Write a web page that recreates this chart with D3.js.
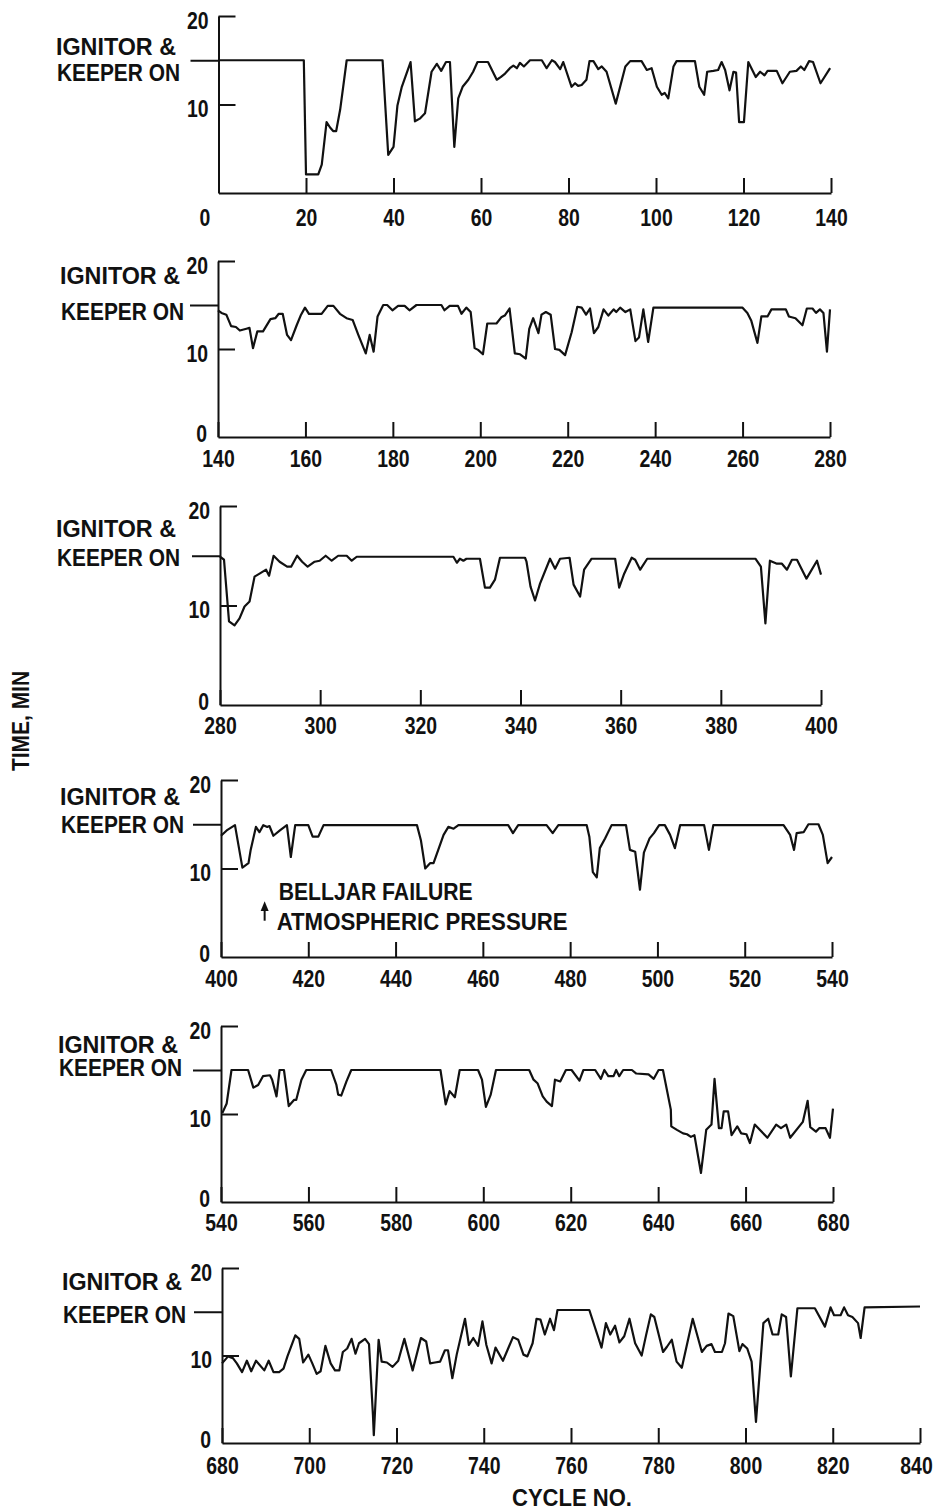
<!DOCTYPE html>
<html>
<head>
<meta charset="utf-8">
<script src="https://cdn.jsdelivr.net/npm/d3@7"></script>
<style>
  html, body { margin: 0; padding: 0; background: #fff; }
  svg text { font-family: "Liberation Sans", Arial, sans-serif; fill: #111; font-weight: bold; }
</style>
</head>
<body>
<svg id="chart" width="942" height="1512"></svg>
<script>
// Ignitor & keeper on-time (minutes) for each test cycle, as [cycle, minutes]
const run1 = [[0,15],[19.5,15],[20,2.1],[22.8,2.1],[23.6,3.2],[24.7,8.0],[25.5,7.4],[26.2,7.0],[26.9,7.0],[27.8,9.4],[28.5,12],[29.3,15],[37.5,15],[38.8,4.3],[40,5.2],[40.9,9.9],[41.9,12],[43.9,14.8],[44.9,8.1],[46,8.4],[47.2,9.0],[48.7,13.7],[49.9,14.6],[50.9,13.8],[52,14.8],[52.9,14.8],[53.9,5.2],[54.8,10.7],[55.8,12],[57.1,12.8],[58.2,13.7],[59.2,14.8],[61.6,14.8],[63.6,12.8],[64.5,13.1],[65.5,13.5],[66.6,14.1],[67.4,14.4],[68.2,14.1],[68.9,14.7],[69.8,14.3],[71.2,15],[73.9,15],[75,14.1],[76.2,15],[76.9,14.8],[78.1,14],[78.8,14.8],[80.7,12],[81.5,12.4],[82.2,12.1],[83,12.2],[84.1,12.8],[84.8,14.9],[85.7,14.9],[86.8,14],[87.6,14.3],[88.7,13.7],[90.8,10.1],[93,14.3],[94.1,14.9],[96.7,14.9],[97.9,13.9],[99,14.1],[100.2,12],[101.3,11.1],[102,11.3],[102.8,10.7],[104,14.3],[104.7,14.9],[108.9,14.9],[109.9,12],[111,11.1],[111.7,13.7],[113.1,13.8],[114.2,13.9],[115,14.8],[115.8,13.9],[116.8,11.6],[117.7,13.7],[118.3,13.6],[119,8],[120.1,8],[121.1,14.8],[122.8,13.1],[123.8,13.7],[124.8,13.3],[125.5,13.8],[127.6,13.8],[128.9,12.4],[130.6,13.7],[132.1,13.8],[133.1,14.3],[133.9,13.9],[135,14.9],[135.9,14.8],[137.6,12.4],[139.8,14.1]];

const run2 = [[140,14.4],[140.8,14.1],[141.9,13.9],[143,12.6],[144.1,12.5],[145,12.1],[146.5,12.3],[147.2,12.4],[148,10.1],[149,12],[150.3,12],[152,13.4],[153.1,13.5],[153.9,14],[154.8,14],[155.8,11.6],[156.7,11],[158,12.7],[159,13.9],[159.9,14.7],[160.8,14],[163.7,14],[165.1,14.9],[166.4,14.9],[167.9,14],[169.4,13.5],[170.8,13.3],[172.1,11.6],[173.8,9.5],[174.7,11.6],[175.6,9.7],[176.5,13.7],[177.8,15],[178.7,15],[179.9,14.4],[181.2,14.9],[182.7,14.9],[183.8,14.4],[185.4,15],[191.1,15],[191.8,14.4],[193,14.9],[194.9,14.9],[195.7,14],[196.8,14.7],[197.8,14.2],[198.7,10.1],[199.5,9.9],[200.6,9.4],[201.6,12.9],[203.7,12.9],[204.8,13.6],[205.6,13.8],[206.7,14.6],[207.9,9.5],[209.1,9.4],[210.4,8.9],[211.2,12.3],[212.1,13.5],[213.3,11.8],[214,13.9],[215,14.2],[216.1,13.9],[217.1,10],[218.1,9.9],[219.4,9.3],[220.9,11.9],[222.2,14.8],[223.2,14.7],[224.2,13.9],[225.1,14.6],[226,11.8],[227,12.5],[228.2,14.5],[229.3,13.8],[230.5,14.5],[231.1,14.2],[232,14.7],[233.2,14.2],[234.3,14.5],[235.5,10.9],[236.3,11.3],[237.3,14.5],[238.4,10.8],[239.6,14.7],[260,14.7],[261.1,14.1],[262,13.2],[263.4,10.7],[264.3,13.7],[265.7,13.7],[266.6,14.5],[269.9,14.5],[270.6,13.7],[272.1,13.5],[273.7,12.7],[274.7,14.6],[276,14.6],[276.8,14.1],[277.7,14.5],[278.5,14.1],[279.3,9.7],[280,14.5]];

const run3 = [[280,14.9],[280.8,14.6],[281.8,8.4],[282.9,8],[283.9,8.7],[284.9,9.9],[285.9,10.4],[286.9,12.9],[287.9,13.2],[289.2,13.6],[289.8,13],[290.7,15],[291.9,14.4],[293.4,13.9],[294.2,13.9],[295.4,15],[296.4,14.4],[297.5,13.9],[298.9,14.4],[299.9,14.5],[301.1,15],[302.3,14.5],[303.6,15],[305.3,15],[306.3,14.5],[307.3,14.9],[326.6,14.9],[327.3,14.3],[327.9,14.7],[328.6,14.5],[329.2,14.7],[331.9,14.7],[332.9,11.8],[333.9,11.8],[334.9,12.6],[335.9,14.8],[340.9,14.8],[341.2,14.4],[342,11.9],[342.9,10.5],[343.9,12.2],[345.9,14.7],[346.9,13.7],[347.9,14.7],[349.8,14.8],[350.6,12.1],[351.9,10.9],[352.7,13.6],[354.2,14.7],[358.9,14.7],[359.7,11.8],[360.7,13.2],[362.2,14.8],[362.9,14.6],[363.9,13.6],[365.3,14.7],[386.9,14.7],[388,13.9],[388.9,8.2],[389.8,14.5],[391.2,14.2],[392.2,14.2],[393.2,13.6],[394.2,14.6],[395.2,14.6],[397.1,12.7],[399.2,14.5],[400,13.1]];

const run4 = [[400,13.7],[401.3,14.3],[403.2,14.9],[404.9,10.1],[406.3,10.6],[406.8,12.1],[408,14.7],[408.8,14.1],[409.7,14.9],[410.6,14.7],[411.1,14.8],[412,13.7],[413.5,14.3],[415.1,14.9],[416,11.3],[417,14.9],[420,14.9],[421,13.6],[422.3,13.6],[423.5,14.9],[444.9,14.9],[445.8,13.2],[446.8,10],[447.9,10.6],[448.7,10.6],[451,13.8],[452.1,14.7],[453.3,14.5],[454.4,14.9],[465.8,14.9],[466.9,14],[468.1,14.9],[474.6,14.9],[476,14],[477.3,14.9],[483.8,14.9],[484.4,13.6],[485.2,9.6],[486.1,9],[486.8,12.3],[488,13.4],[489.5,14.9],[492.8,14.9],[493.7,12.1],[494.9,11.9],[496,7.6],[496.9,11.8],[498.2,13.4],[499.2,14],[500.4,14.9],[501.7,14.9],[502.9,13.8],[504,12.3],[505.2,14.9],[510.7,14.9],[511.8,12.1],[512.8,14.9],[528.9,14.9],[530.4,13.8],[531.3,12.1],[531.9,14],[533.5,14.1],[534.6,15],[536.9,15],[537.9,13.8],[539,10.6],[540,11.3]];

const run5 = [[540.3,10.1],[541.3,11.2],[542.4,15],[546.2,15],[547.4,13],[548.5,13.3],[549.6,14.3],[551.2,14.4],[551.7,13.9],[552.7,12],[553.4,15],[554.4,15],[555.5,10.9],[556.7,11.6],[557.2,11.6],[558.4,13.9],[559.5,15],[565.2,15],[566.4,13.3],[566.8,12.2],[567.5,12.1],[568.7,13.7],[569.8,15],[590.2,15],[591.4,11.1],[592.3,12.6],[593.5,11.9],[594.6,15],[598.8,15],[599.7,13.9],[600.6,10.8],[601.7,12.2],[602.9,15],[610.5,15],[611.5,13.9],[612.4,13.5],[613.6,12],[614.5,11.4],[615.7,10.9],[616.4,13.9],[617.6,13.7],[618.9,15],[620.2,15],[622,13.8],[622.9,15],[625.6,15],[626.9,14],[627.7,15],[628.6,14.3],[629.8,14.3],[630.4,15],[631.1,14.3],[632,15],[634,15],[635,14.6],[637.8,14.5],[639,14],[640.1,15],[641.1,15],[642.9,10.5],[643,8.6],[644.3,8.2],[645.7,7.8],[646.6,7.7],[647.5,7.4],[648.3,7.6],[649.8,3.3],[651,8.2],[652.2,8.8],[652.9,14],[653.9,8.4],[654.5,8.4],[655,10.3],[656,10.3],[656.8,7.6],[658.1,8.6],[659,7.8],[660.2,7.7],[661,6.7],[662.1,8.8],[665,7.3],[667,8.8],[668.1,8.4],[669.3,8.8],[670.2,7.3],[673.1,9.1],[674.2,11.5],[674.8,8.5],[676.1,8],[676.9,8.4],[678.3,8.4],[679.3,7.3],[680,10.6]];

const run6 = [[680,9.1],[681.4,9.9],[682.5,9.7],[683.4,9.1],[684.6,8.1],[685.7,9.4],[686.7,8.2],[687.8,9.4],[689.7,8.3],[690.7,9.4],[691.8,8.1],[693.1,8.1],[694.1,8.5],[695,9.9],[696.8,12.3],[697.7,11.9],[698.6,9.2],[699.8,10.1],[700.7,9.1],[701.7,7.9],[702.6,8.2],[703.7,11.1],[704.9,9.1],[705.9,8.3],[706.9,8.3],[707.7,10.4],[708.7,10.8],[709.7,11.9],[710.6,10.2],[711.4,11.4],[712.8,11.9],[713.7,11.3],[714.6,3.2],[714.8,0.9],[715.9,11.8],[716.6,9.3],[717.8,9.2],[719.1,8.7],[720.4,9.4],[721.8,11.9],[723.7,8.3],[725.6,12],[726.8,11.6],[727.7,9.1],[728.8,9.2],[730,9.3],[731.1,10.6],[731.8,10.6],[732.8,7.4],[733.8,10.1],[735.7,14.2],[736.6,11.2],[737.6,12],[738.7,11.1],[739.7,13.9],[740.6,11.2],[741.8,9.1],[742.7,10.9],[744.4,9.4],[746.7,12.1],[747.9,11.8],[749.1,10.1],[750,9.9],[751.2,11.4],[752.1,14.2],[753,14.1],[754,12.4],[755.2,14.2],[756.1,12.9],[756.9,15.2],[764.2,15.2],[767,10.9],[768,13.7],[769,12.4],[770.1,13.4],[771.1,11.5],[772.2,12.2],[773.4,14.2],[774.7,11.4],[776.2,10],[777.2,12.3],[778.3,14.7],[779.1,14.4],[781.1,10.4],[782,11],[783.1,11.8],[784.2,9.3],[785.4,8.6],[787.9,14.2],[790,10.4],[791.1,11.1],[792.2,11.3],[793,10.4],[794.6,10.4],[795.3,11.4],[796.1,14.8],[797.2,14.5],[798.6,10.5],[799.3,11.3],[800.4,10.8],[801.4,9.3],[802.4,2.4],[804.1,13.7],[805.2,14.2],[806.2,12.4],[807.5,12.4],[808.3,14.7],[809.3,14.4],[810.4,7.6],[811.9,15.4],[815.9,15.4],[818.2,13.3],[819.5,15.5],[820.3,14.6],[821.8,14.6],[822.6,15.5],[823.5,14.6],[824.5,14.4],[825.8,13.7],[826.4,12],[827.3,15.5],[840,15.6]];

// Cycle-number tick labels for each strip
const cycleTicks1 = [0, 20, 40, 60, 80, 100, 120, 140];
const cycleTicks2 = [140, 160, 180, 200, 220, 240, 260, 280];
const cycleTicks3 = [280, 300, 320, 340, 360, 380, 400];
const cycleTicks4 = [400, 420, 440, 460, 480, 500, 520, 540];
const cycleTicks5 = [540, 560, 580, 600, 620, 640, 660, 680];
const cycleTicks6 = [680, 700, 720, 740, 760, 780, 800, 820, 840];

// Time axis ticks (minutes) and the ignitor/keeper-on level
const timeTicks = [0, 10, 20];
const keeperOnLevel = 15;

// Belljar failure event
const bellJarCycle = 410;
const noteLines = ["BELLJAR FAILURE", "ATMOSPHERIC PRESSURE"];

const runs = [run1, run2, run3, run4, run5, run6];
const cycleTicks = [cycleTicks1, cycleTicks2, cycleTicks3, cycleTicks4, cycleTicks5, cycleTicks6];

// Strip geometry (pixels)
const strips = [
  { left: 218.5, right: 831, zero: 193,  top: 16,   pad: 16, lx: 56, ignDy: -14, keepDy: 12 },
  { left: 218,   right: 830, zero: 437,  top: 261,  pad: 13, lx: 60, ignDy: -29, keepDy: 7 },
  { left: 220,   right: 821, zero: 705,  top: 506,  pad: 12, lx: 56, ignDy: -27, keepDy: 2 },
  { left: 221,   right: 832, zero: 957,  top: 780,  pad: 13, lx: 60, ignDy: -28, keepDy: 0 },
  { left: 221,   right: 833, zero: 1202, top: 1026, pad: 12, lx: 58, ignDy: -25, keepDy: -2 },
  { left: 222,   right: 920, zero: 1443, top: 1268, pad: 14, lx: 62, ignDy: -30, keepDy: 3 }
];

const svg = d3.select("#chart");
const ink = "#111";
const fs = 24;
const digitW = 10.8;   // narrow numerals
const numLen = d => String(d).length * digitW;

strips.forEach((s, i) => {
  const ticks = cycleTicks[i];
  const first = ticks[0], last = ticks[ticks.length - 1];
  const x = d3.scaleLinear().domain([first, last]).range([s.left, s.right]);
  const y = d3.scaleLinear().domain([0, 20]).range([s.zero, s.top]);
  const g = svg.append("g");

  // cycle axis: baseline with upward ticks, labels beneath
  const xa = g.append("g")
    .attr("transform", `translate(0,${s.zero})`)
    .call(d3.axisBottom(x).tickValues(ticks).tickSize(-15).tickSizeOuter(0).tickPadding(s.pad).tickFormat(d3.format("d")));
  xa.selectAll("path, line").attr("stroke", ink).attr("stroke-width", 2);
  xa.selectAll("text").attr("font-size", fs).attr("fill", ink)
    .attr("font-family", null)
    .attr("textLength", d => numLen(d)).attr("lengthAdjust", "spacingAndGlyphs")
    .attr("dx", d => (i === 0 && d === 0) ? -14 : (i === 5 && d === last) ? -4 : 0);

  // time axis: inward ticks at 10 and 20
  const ya = g.append("g")
    .attr("transform", `translate(${s.left},0)`)
    .call(d3.axisRight(y).tickValues(timeTicks.filter(v => v > 0)).tickSize(17).tickSizeOuter(0).tickFormat(""));
  ya.selectAll("path, line").attr("stroke", ink).attr("stroke-width", 2);

  // outward tick marking the ignitor & keeper on level
  const ka = g.append("g")
    .attr("transform", `translate(${s.left},0)`)
    .call(d3.axisLeft(y).tickValues([keeperOnLevel]).tickSize(28).tickSizeOuter(0).tickFormat(""));
  ka.select("path").remove();
  ka.selectAll("line").attr("stroke", ink).attr("stroke-width", 2);

  // time tick labels
  g.selectAll("text.tl")
    .data(timeTicks.filter(v => !(i === 0 && v === 0)))
    .join("text")
    .attr("class", "tl")
    .attr("x", d => s.left - (d === 0 ? 11 : 10))
    .attr("y", d => y(d) + (d === 0 ? -4 : 4))
    .attr("dy", "0.36em")
    .attr("text-anchor", "end")
    .attr("font-size", fs)
    .attr("textLength", d => numLen(d)).attr("lengthAdjust", "spacingAndGlyphs")
    .text(d => d);

  // level label
  const ky = y(keeperOnLevel);
  g.append("text").attr("x", s.lx).attr("y", ky + s.ignDy).attr("dy", "0.36em")
    .attr("font-size", 23).attr("textLength", 120).attr("lengthAdjust", "spacingAndGlyphs")
    .text("IGNITOR &");
  g.append("text").attr("x", s.lx + 1).attr("y", ky + s.keepDy).attr("dy", "0.36em")
    .attr("font-size", 23).attr("textLength", 123).attr("lengthAdjust", "spacingAndGlyphs")
    .text("KEEPER ON");

  // on-time trace
  g.append("path")
    .datum(runs[i])
    .attr("fill", "none")
    .attr("stroke", ink)
    .attr("stroke-width", 2.2)
    .attr("stroke-linejoin", "round")
    .attr("d", d3.line().x(d => x(d[0])).y(d => y(d[1])));

  // belljar failure annotation in the fourth strip
  if (i === 3) {
    const ax = x(bellJarCycle);
    g.append("line").attr("x1", ax).attr("x2", ax).attr("y1", y(4.1)).attr("y2", y(5.6))
      .attr("stroke", ink).attr("stroke-width", 2);
    g.append("path")
      .attr("d", `M${ax},${y(6.3)} L${ax - 4},${y(5.2)} L${ax + 4},${y(5.2)} Z`)
      .attr("fill", ink);
    g.append("text").attr("x", ax + 14).attr("y", 891).attr("dy", "0.36em")
      .attr("font-size", fs).attr("textLength", 194).attr("lengthAdjust", "spacingAndGlyphs")
      .text(noteLines[0]);
    g.append("text").attr("x", ax + 12).attr("y", 921).attr("dy", "0.36em")
      .attr("font-size", fs).attr("textLength", 291).attr("lengthAdjust", "spacingAndGlyphs")
      .text(noteLines[1]);
  }
});

// axis titles
svg.append("text")
  .attr("transform", "translate(29,721) rotate(-90)")
  .attr("text-anchor", "middle")
  .attr("font-size", fs)
  .attr("textLength", 100).attr("lengthAdjust", "spacingAndGlyphs")
  .text("TIME, MIN");

svg.append("text")
  .attr("x", 512).attr("y", 1506)
  .attr("font-size", fs)
  .attr("textLength", 120).attr("lengthAdjust", "spacingAndGlyphs")
  .text("CYCLE NO.");
</script>
</body>
</html>
